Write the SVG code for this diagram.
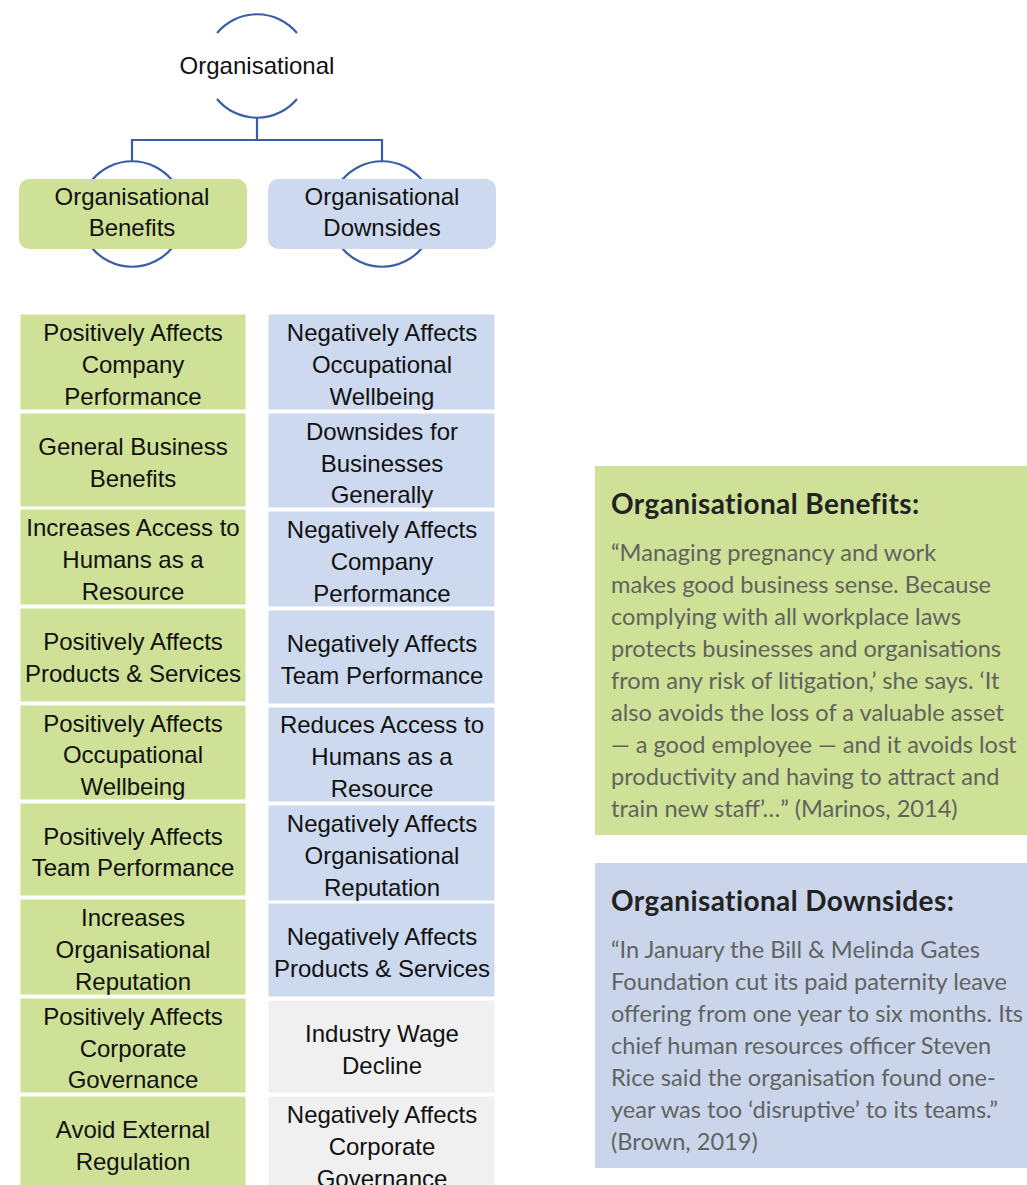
<svg xmlns="http://www.w3.org/2000/svg" width="1027" height="1185" viewBox="0 0 1027 1185">
<style>
.t{font-family:"Liberation Sans",Arial,sans-serif;font-size:24px;fill:#111;text-anchor:middle}
.g{fill:#CFE097;stroke:#fff;stroke-width:1}
.b{fill:#CDD9EE;stroke:#fff;stroke-width:1}
.y{fill:#F0F0F0;stroke:#fff;stroke-width:1}
.arc{fill:none;stroke:#3A5DA8;stroke-width:2.2}
.hd{font-family:Lato,"Liberation Sans",sans-serif;font-size:28px;font-weight:bold;fill:#222;letter-spacing:0.4px}
.bd{font-family:Lato,"Liberation Sans",sans-serif;font-size:23.6px;fill:#60645F}
</style>
<rect width="1027" height="1185" fill="#fff"/>
<g id="connectors">
<path class="arc" d="M257 118 V140 M132 162 V140 H382 V162"/>
</g>
<g id="root">
<path class="arc" d="M217 33 A52 52 0 0 1 297 33"/>
<path class="arc" d="M217 99 A52 52 0 0 0 297 99"/>
<text class="t" x="257" y="74">Organisational</text>
</g>
<g id="benefits">
<path class="arc" d="M92 180 A52 52 0 0 1 172 180"/>
<path class="arc" d="M92 248 A52 52 0 0 0 172 248"/>
<rect x="19" y="179" width="228" height="70" rx="10" fill="#CFE097"/>
<text class="t" x="132" y="205">Organisational</text>
<text class="t" x="132" y="236">Benefits</text>
</g>
<g id="downsides">
<path class="arc" d="M342 180 A52 52 0 0 1 422 180"/>
<path class="arc" d="M342 248 A52 52 0 0 0 422 248"/>
<rect x="268" y="179" width="228" height="70" rx="10" fill="#CDD9EE"/>
<text class="t" x="382" y="205">Organisational</text>
<text class="t" x="382" y="236">Downsides</text>
</g>
<g id="left-list">
<g id="l1"><rect class="g" x="20" y="314" width="226" height="96"/><text class="t" x="133" y="341">Positively Affects</text><text class="t" x="133" y="373">Company</text><text class="t" x="133" y="405">Performance</text></g>
<g id="l2"><rect class="g" x="20" y="413" width="226" height="94"/><text class="t" x="133" y="455">General Business</text><text class="t" x="133" y="487">Benefits</text></g>
<g id="l3"><rect class="g" x="20" y="509" width="226" height="96"/><text class="t" x="133" y="536">Increases Access to</text><text class="t" x="133" y="568">Humans as a</text><text class="t" x="133" y="600">Resource</text></g>
<g id="l4"><rect class="g" x="20" y="608" width="226" height="94"/><text class="t" x="133" y="650">Positively Affects</text><text class="t" x="133" y="682">Products &amp; Services</text></g>
<g id="l5"><rect class="g" x="20" y="705" width="226" height="95"/><text class="t" x="133" y="732">Positively Affects</text><text class="t" x="133" y="763">Occupational</text><text class="t" x="133" y="795">Wellbeing</text></g>
<g id="l6"><rect class="g" x="20" y="803" width="226" height="93"/><text class="t" x="133" y="845">Positively Affects</text><text class="t" x="133" y="876">Team Performance</text></g>
<g id="l7"><rect class="g" x="20" y="899" width="226" height="96"/><text class="t" x="133" y="926">Increases</text><text class="t" x="133" y="958">Organisational</text><text class="t" x="133" y="990">Reputation</text></g>
<g id="l8"><rect class="g" x="20" y="998" width="226" height="95"/><text class="t" x="133" y="1025">Positively Affects</text><text class="t" x="133" y="1057">Corporate</text><text class="t" x="133" y="1088">Governance</text></g>
<g id="l9"><rect class="g" x="20" y="1096" width="226" height="100"/><text class="t" x="133" y="1138">Avoid External</text><text class="t" x="133" y="1170">Regulation</text></g>
</g>
<g id="right-list">
<g id="r1"><rect class="b" x="268" y="314" width="227" height="96"/><text class="t" x="382" y="341">Negatively Affects</text><text class="t" x="382" y="373">Occupational</text><text class="t" x="382" y="405">Wellbeing</text></g>
<g id="r2"><rect class="b" x="268" y="413" width="227" height="95"/><text class="t" x="382" y="440">Downsides for</text><text class="t" x="382" y="472">Businesses</text><text class="t" x="382" y="503">Generally</text></g>
<g id="r3"><rect class="b" x="268" y="511" width="227" height="96"/><text class="t" x="382" y="538">Negatively Affects</text><text class="t" x="382" y="570">Company</text><text class="t" x="382" y="602">Performance</text></g>
<g id="r4"><rect class="b" x="268" y="610" width="227" height="94"/><text class="t" x="382" y="652">Negatively Affects</text><text class="t" x="382" y="684">Team Performance</text></g>
<g id="r5"><rect class="b" x="268" y="707" width="227" height="95"/><text class="t" x="382" y="733">Reduces Access to</text><text class="t" x="382" y="765">Humans as a</text><text class="t" x="382" y="797">Resource</text></g>
<g id="r6"><rect class="b" x="268" y="805" width="227" height="96"/><text class="t" x="382" y="832">Negatively Affects</text><text class="t" x="382" y="864">Organisational</text><text class="t" x="382" y="896">Reputation</text></g>
<g id="r7"><rect class="b" x="268" y="903" width="227" height="94"/><text class="t" x="382" y="945">Negatively Affects</text><text class="t" x="382" y="977">Products &amp; Services</text></g>
<g id="r8"><rect class="y" x="268" y="1000" width="227" height="93"/><text class="t" x="382" y="1042">Industry Wage</text><text class="t" x="382" y="1074">Decline</text></g>
<g id="r9"><rect class="y" x="268" y="1096" width="227" height="100"/><text class="t" x="382" y="1123">Negatively Affects</text><text class="t" x="382" y="1155">Corporate</text><text class="t" x="382" y="1187">Governance</text></g>
</g>
<g id="benefits-note">
<rect x="595" y="466" width="440" height="369" fill="#CFE097"/>
<text class="hd" x="611" y="514">Organisational Benefits:</text>
<text class="bd" x="611" y="561">“Managing pregnancy and work</text>
<text class="bd" x="611" y="593">makes good business sense. Because</text>
<text class="bd" x="611" y="625">complying with all workplace laws</text>
<text class="bd" x="611" y="657">protects businesses and organisations</text>
<text class="bd" x="611" y="689">from any risk of litigation,’ she says. ‘It</text>
<text class="bd" x="611" y="721">also avoids the loss of a valuable asset</text>
<text class="bd" x="611" y="753">— a good employee — and it avoids lost</text>
<text class="bd" x="611" y="785">productivity and having to attract and</text>
<text class="bd" x="611" y="817">train new staff’…” (Marinos, 2014)</text>
</g>
<g id="downsides-note">
<rect x="595" y="863" width="440" height="305" fill="#CAD5EC"/>
<text class="hd" x="611" y="911">Organisational Downsides:</text>
<text class="bd" x="611" y="958">“In January the Bill &amp; Melinda Gates</text>
<text class="bd" x="611" y="990">Foundation cut its paid paternity leave</text>
<text class="bd" x="611" y="1022">offering from one year to six months. Its</text>
<text class="bd" x="611" y="1054">chief human resources officer Steven</text>
<text class="bd" x="611" y="1086">Rice said the organisation found one-</text>
<text class="bd" x="611" y="1118">year was too ‘disruptive’ to its teams.”</text>
<text class="bd" x="611" y="1150">(Brown, 2019)</text>
</g>
</svg>
